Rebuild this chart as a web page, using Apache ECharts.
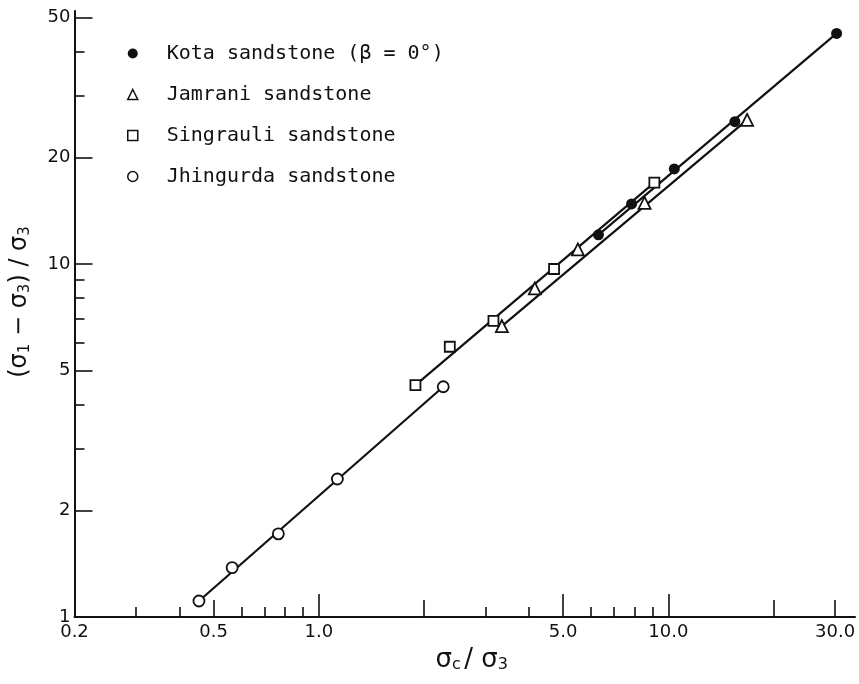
<!DOCTYPE html>
<html>
<head>
<meta charset="utf-8">
<script src="https://cdn.jsdelivr.net/npm/echarts@6/dist/echarts.min.js"></script>
<style>
html,body{margin:0;padding:0;background:#fff;}
#chart{width:859px;height:684px;}
</style>
</head>
<body>
<div id="chart"></div>
<script>
// ---- data ----
const seriesNames = ['Kota sandstone (β = 0°)', 'Jamrani sandstone', 'Singrauli sandstone', 'Jhingurda sandstone'];

const kota = [[6.31, 12.1], [7.85, 14.8], [10.4, 18.6], [15.5, 25.3], [30.3, 45.0]];
const jamrani = [[3.34, 6.67], [4.15, 8.53], [5.51, 11.0], [8.55, 14.9], [16.8, 25.6]];
const singrauli = [[1.89, 4.54], [2.37, 5.83], [3.16, 6.90], [4.71, 9.68], [9.12, 17.0]];
const jhingurda = [[0.454, 1.11], [0.565, 1.38], [0.766, 1.72], [1.13, 2.46], [2.27, 4.49]];

// fitted straight lines (end points)
const kotaFit = [[6.31, 12.1], [30.3, 45.0]];
const jamraniFit = [[3.34, 6.67], [16.8, 25.6]];
const singrauliFit = [[1.89, 4.54], [9.12, 17.0]];
const jhingurdaFit = [[0.454, 1.11], [2.27, 4.49]];

// tick labels and tick positions
const xLabels = [0.2, 0.5, 1, 5, 10, 30];
const xTickLong = [1, 5, 10];
const xTickMid = [0.5, 2, 20, 30];
const xTickShort = [0.3, 0.4, 0.6, 0.7, 0.8, 0.9, 3, 4, 6, 7, 8, 9];
const yLabels = [1, 2, 5, 10, 20, 50];
const yTickLong = [2, 5, 10, 20, 50];
const yTickShort = [3, 4, 6, 7, 8, 9, 30, 40];

// ---- chart ----
const INK = '#111';
const FONT = "'DejaVu Sans',sans-serif";
const MONO = "'DejaVu Sans Mono',monospace";
const chart = echarts.init(document.getElementById('chart'), null, {renderer: 'canvas'});

const X_MIN = 0.2, X_MAX = 34.2, Y_MIN = 1, Y_MAX = 52.1;

function xAxisDef(ticks, len, withLabels) {
  return {
    type: 'log', logBase: 10, min: X_MIN, max: X_MAX, gridIndex: 0, position: 'bottom',
    axisLine: {show: withLabels, onZero: false, lineStyle: {color: INK, width: 2}},
    axisTick: {show: true, inside: true, length: len, customValues: ticks, lineStyle: {color: INK, width: 1.6}},
    axisLabel: withLabels ? {show: true, customValues: xLabels, color: INK, fontSize: 18, fontFamily: FONT, margin: 6,
      formatter: v => Number(v).toFixed(1)} : {show: false},
    splitLine: {show: false}, minorTick: {show: false},
    name: withLabels ? '{s|σ}{sub|c} {s|/ σ}{sub|3}' : '',
    nameLocation: 'middle', nameGap: 30,
    nameTextStyle: {padding: [0, 0, 0, 14], rich: {
      s: {fontSize: 26, fontFamily: FONT, color: INK},
      sub: {fontSize: 16, fontFamily: FONT, color: INK, verticalAlign: 'bottom', padding: [10, 0, 0, 0]}
    }}
  };
}
function yAxisDef(ticks, len, withLabels) {
  return {
    type: 'log', logBase: 10, min: Y_MIN, max: Y_MAX, gridIndex: 0, position: 'left',
    axisLine: {show: withLabels, onZero: false, lineStyle: {color: INK, width: 2}},
    axisTick: {show: true, inside: true, length: len, customValues: ticks, lineStyle: {color: INK, width: 1.6}},
    axisLabel: withLabels ? {show: true, customValues: yLabels, color: INK, fontSize: 18, fontFamily: FONT, margin: 4,
      formatter: v => String(Math.round(v))} : {show: false},
    splitLine: {show: false}, minorTick: {show: false},
    name: withLabels ? '{s|(σ}{sub|1}{s| − σ}{sub|3}{s|) / σ}{sub|3}' : '',
    nameLocation: 'middle', nameGap: 42, nameRotate: 90,
    nameTextStyle: {padding: [0, 0, 0, 24], rich: {
      s: {fontSize: 24, fontFamily: FONT, color: INK},
      sub: {fontSize: 15, fontFamily: FONT, color: INK, verticalAlign: 'bottom', padding: [10, 0, 0, 0]}
    }}
  };
}

function fitLine(data) {
  return {type: 'line', data: data, xAxisIndex: 0, yAxisIndex: 0, showSymbol: false, symbol: 'none',
    lineStyle: {color: INK, width: 2.2}, z: 2, silent: true, animation: false};
}
function pts(name, data, symbol, size, filled) {
  return {type: 'scatter', name: name, data: data, xAxisIndex: 0, yAxisIndex: 0, symbol: symbol, symbolSize: size,
    itemStyle: {color: filled ? INK : '#fff', borderColor: INK, borderWidth: filled ? 0 : 1.8, opacity: 1},
    z: 5, animation: false};
}

const option = {
  backgroundColor: '#fff',
  animation: false,
  grid: {left: 64, right: 4, top: 11, bottom: 67, containLabel: false},
  xAxis: [xAxisDef(xTickLong, 23, true), xAxisDef(xTickMid, 17, false), xAxisDef(xTickShort, 10, false)],
  yAxis: [yAxisDef(yTickLong, 18, true), yAxisDef(yTickShort, 10, false)],
  legend: {
    orient: 'vertical', left: 122, top: 38, itemGap: 20, itemWidth: 10, itemHeight: 10,
    data: [
      {name: seriesNames[0], icon: 'circle', itemStyle: {color: INK, borderWidth: 0}},
      {name: seriesNames[1], icon: 'triangle', itemStyle: {color: '#fff', borderColor: INK, borderWidth: 1.5}},
      {name: seriesNames[2], icon: 'rect', itemStyle: {color: '#fff', borderColor: INK, borderWidth: 1.5}},
      {name: seriesNames[3], icon: 'circle', itemStyle: {color: '#fff', borderColor: INK, borderWidth: 1.5}}
    ],
    textStyle: {fontSize: 20, lineHeight: 21, fontFamily: MONO, color: INK, padding: [0, 0, 0, 24]},
    selectedMode: false
  },
  series: [
    fitLine(kotaFit), fitLine(jamraniFit), fitLine(singrauliFit), fitLine(jhingurdaFit),
    pts(seriesNames[0], kota, 'circle', 11, true),
    pts(seriesNames[1], jamrani, 'triangle', 12, false),
    pts(seriesNames[2], singrauli, 'rect', 10, false),
    pts(seriesNames[3], jhingurda, 'circle', 11, false)
  ]
};
chart.setOption(option);
</script>
</body>
</html>
